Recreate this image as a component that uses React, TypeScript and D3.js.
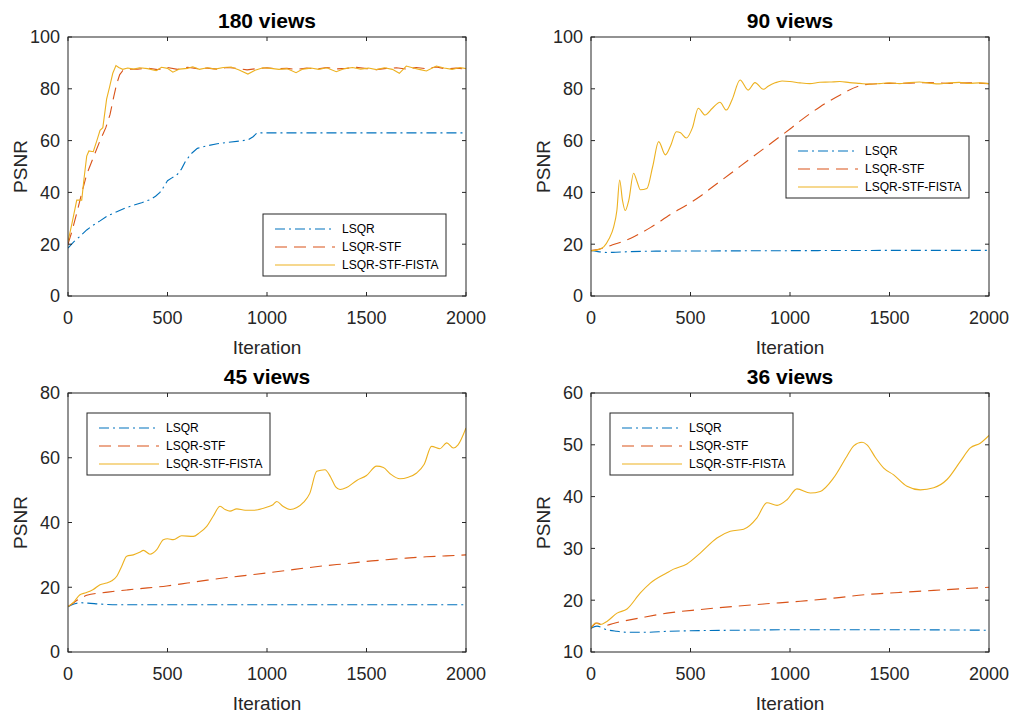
import * as d3 from 'd3';

// [iteration, PSNR] samples
const lsqr180 = [[0, 18.5], [30, 21], [60, 23], [94, 25.5], [130, 27.5], [161, 29], [200, 31], [245, 32.5], [290, 34], [328, 35], [370, 36], [412, 37.2], [440, 38.5], [462, 40], [480, 42], [500, 44.5], [520, 45.5], [550, 47], [570, 49], [590, 52], [620, 55], [650, 57], [700, 58], [750, 58.8], [800, 59.3], [860, 59.8], [906, 60.3], [930, 61.5], [948, 62.8], [970, 63], [2000, 63]];
const stf180 = [[0, 20], [20, 25], [44, 32], [70, 40], [94, 47], [130, 54], [161, 60], [190, 65], [211, 70], [230, 77], [245, 82], [260, 85.5], [275, 87], [300, 87.5], [350, 87.6], [400, 88], [450, 87.4], [500, 88.2], [550, 87.5], [600, 88.3], [650, 87.8], [700, 88], [750, 87.6], [800, 88.2], [850, 87.9], [900, 87.3], [950, 87.8], [1000, 88.1], [1050, 87.7], [1100, 87.9], [1150, 87.5], [1200, 88], [1250, 87.6], [1300, 88.2], [1350, 87.7], [1400, 87.9], [1450, 88.3], [1500, 87.8], [1550, 87.4], [1600, 87.9], [1650, 88.1], [1700, 87.6], [1750, 88.2], [1800, 87.8], [1850, 88.4], [1900, 87.7], [1950, 88], [2000, 87.6]];
const fista180 = [[0, 21], [20, 28], [44, 37], [69, 37], [80, 45], [94, 54], [105, 56], [127, 55.7], [145, 60], [161, 64], [175, 65], [194, 76], [210, 81], [225, 86], [241, 89], [255, 88.2], [275, 87.5], [300, 88], [330, 87.6], [360, 88.1], [400, 87.8], [443, 87], [470, 88.3], [500, 87.9], [527, 86.4], [560, 87.6], [600, 87.9], [627, 88.5], [660, 87.5], [700, 88.1], [740, 87.6], [780, 88.2], [820, 88.4], [860, 87.3], [904, 85.7], [940, 87.2], [980, 88.1], [1020, 87.9], [1060, 87.5], [1100, 87.8], [1146, 86.2], [1180, 87.6], [1220, 88], [1260, 87.5], [1300, 88.1], [1348, 86.6], [1390, 87.8], [1430, 88.2], [1470, 87.6], [1510, 88], [1550, 87.4], [1590, 88.1], [1630, 87.5], [1665, 86], [1700, 88.8], [1740, 87.9], [1770, 87.4], [1801, 86.9], [1851, 88.8], [1890, 88], [1930, 87.5], [1970, 88.2], [2000, 87.8]];

const lsqr90 = [[0, 17.6], [30, 17.2], [80, 16.8], [150, 17], [300, 17.3], [600, 17.4], [1000, 17.5], [1500, 17.6], [2000, 17.6]];
const stf90 = [[0, 17.5], [40, 18], [100, 19.5], [200, 22.3], [300, 26.5], [400, 31.5], [500, 36], [549, 38.5], [600, 41.5], [700, 47.2], [800, 53], [884, 57.8], [1000, 64.5], [1058, 68], [1150, 73], [1250, 77.5], [1343, 81], [1400, 81.8], [1500, 82.1], [1600, 82.2], [1700, 82.4], [1800, 82.1], [1900, 82.3], [2000, 82]];
const fista90 = [[0, 17.5], [30, 17.8], [64, 19], [90, 22], [114, 26.7], [130, 33], [144, 44.8], [158, 37], [172, 33], [190, 37], [214, 47.4], [232, 44], [248, 41], [281, 41.5], [310, 50], [340, 59.6], [374, 54.5], [400, 58], [429, 63.4], [450, 63], [479, 61], [510, 65], [539, 72.5], [573, 69.9], [610, 72.5], [648, 74.8], [680, 71.8], [710, 76], [749, 83.4], [790, 79.5], [824, 82.4], [866, 79.8], [890, 81], [925, 82.3], [960, 83], [1000, 82.8], [1050, 82.3], [1100, 82], [1150, 82.5], [1200, 82.6], [1250, 82.8], [1300, 82.4], [1350, 82.1], [1400, 81.8], [1450, 82], [1500, 82.3], [1550, 82], [1600, 82.4], [1650, 82.6], [1700, 82.2], [1750, 81.9], [1800, 82.3], [1850, 82.5], [1900, 82.1], [1950, 82.3], [2000, 82]];

const lsqr45 = [[0, 14], [30, 14.8], [60, 15.2], [100, 15.1], [161, 14.8], [250, 14.6], [500, 14.6], [1000, 14.6], [1500, 14.6], [2000, 14.6]];
const stf45 = [[0, 14], [30, 15.3], [60, 16.5], [94, 17.5], [200, 18.5], [300, 19.2], [400, 19.8], [496, 20.4], [600, 21.3], [700, 22.2], [800, 23], [900, 23.7], [998, 24.4], [1100, 25.2], [1200, 26], [1300, 26.7], [1400, 27.3], [1501, 28], [1600, 28.5], [1700, 29], [1800, 29.4], [1900, 29.7], [2000, 30]];
const fista45 = [[0, 14], [30, 15.5], [60, 17.7], [90, 18.3], [127, 19.3], [161, 20.8], [194, 21.3], [220, 22], [245, 23.4], [270, 26.5], [295, 29.6], [328, 30], [360, 30.8], [379, 31.4], [412, 30.2], [446, 31.6], [479, 34.7], [500, 35], [529, 34.7], [571, 35.9], [630, 35.7], [660, 36.8], [697, 38.8], [730, 42], [764, 45], [790, 44], [814, 43.5], [848, 44.2], [890, 43.8], [931, 43.8], [998, 44.7], [1030, 45.5], [1049, 46.5], [1080, 45], [1116, 44], [1150, 44.6], [1183, 46.2], [1215, 49], [1250, 55.8], [1291, 56.3], [1320, 54], [1345, 51], [1367, 50.2], [1400, 50.8], [1451, 53], [1500, 54.5], [1551, 57.4], [1585, 57], [1620, 55], [1668, 53.5], [1710, 54], [1752, 55.3], [1790, 58], [1827, 63.5], [1869, 62.8], [1903, 64.6], [1936, 63], [1960, 64], [2000, 69.2]];

const lsqr36 = [[0, 14.6], [30, 15], [80, 14.3], [130, 14], [181, 13.8], [280, 13.8], [382, 14], [500, 14.1], [717, 14.2], [1000, 14.3], [1219, 14.3], [1500, 14.3], [2000, 14.2]];
const stf36 = [[0, 14.6], [30, 15.6], [64, 15.1], [131, 15.7], [250, 16.6], [382, 17.5], [550, 18.2], [717, 18.8], [880, 19.3], [1052, 19.8], [1220, 20.4], [1387, 21.1], [1550, 21.5], [1722, 21.9], [1860, 22.2], [2000, 22.5]];
const fista36 = [[0, 14.6], [22, 15.6], [47, 15.3], [80, 15.9], [131, 17.5], [181, 18.3], [248, 21.4], [298, 23.3], [382, 25.3], [415, 26], [482, 27], [549, 29.1], [633, 32], [700, 33.3], [767, 33.7], [834, 35.9], [884, 38.8], [935, 38.3], [985, 39.4], [1035, 41.5], [1102, 40.7], [1152, 41], [1219, 43.6], [1286, 47.8], [1320, 49.8], [1362, 50.5], [1387, 50], [1430, 47.5], [1471, 45.5], [1521, 44.2], [1588, 42], [1655, 41.3], [1722, 41.7], [1789, 43.3], [1856, 46.8], [1906, 49.4], [1956, 50.3], [2000, 51.8]];

const seriesNames = ['LSQR', 'LSQR-STF', 'LSQR-STF-FISTA'];
const seriesColors = ['#0072BD', '#D95319', '#EDB120'];
const seriesDash = ['10,4,2,4', '12,7', null];
const xTicks = [0, 500, 1000, 1500, 2000];

const panels = [
  { title: '180 views', data: [lsqr180, stf180, fista180], yDomain: [0, 100], yTicks: [0, 20, 40, 60, 80, 100], box: [68, 37, 466, 296], legend: [263, 214], smooth: false },
  { title: '90 views', data: [lsqr90, stf90, fista90], yDomain: [0, 100], yTicks: [0, 20, 40, 60, 80, 100], box: [591, 37, 989, 296], legend: [786, 136], smooth: true },
  { title: '45 views', data: [lsqr45, stf45, fista45], yDomain: [0, 80], yTicks: [0, 20, 40, 60, 80], box: [68, 393, 466, 652], legend: [87, 413], smooth: true },
  { title: '36 views', data: [lsqr36, stf36, fista36], yDomain: [10, 60], yTicks: [10, 20, 30, 40, 50, 60], box: [591, 393, 989, 652], legend: [610, 413], smooth: true },
];

const ink = '#262626';
const font = 'Liberation Sans, Arial, Helvetica, sans-serif';

function Panel({ p }: { p: any }) {
  const [x0, y0, x1, y1] = p.box;
  const x = d3.scaleLinear().domain([0, 2000]).range([x0, x1]);
  const y = d3.scaleLinear().domain(p.yDomain).range([y1, y0]);
  const line = d3.line<number[]>()
    .x(d => x(d[0]))
    .y(d => y(d[1]))
    .curve(p.smooth ? d3.curveMonotoneX : d3.curveLinear);
  const [lx, ly] = p.legend;
  const tick = 4;
  const clipId = `clip-${p.title.replace(' ', '')}`;
  return (
    <g>
      <text x={(x0 + x1) / 2} y={y0 - 9.5} textAnchor="middle" fontSize={21} fontWeight="bold" fill="#000">{p.title}</text>
      <rect x={x0} y={y0} width={x1 - x0} height={y1 - y0} fill="#fff" />
      <clipPath id={clipId}>
        <rect x={x0} y={y0 - 1} width={x1 - x0} height={y1 - y0 + 2} />
      </clipPath>
      <g clipPath={`url(#${clipId})`}>
        {p.data.map((s: number[][], i: number) => (
          <path key={i} d={line(s) || ''} fill="none" stroke={seriesColors[i]} strokeWidth={1.1}
            strokeDasharray={seriesDash[i] || undefined} />
        ))}
      </g>
      <rect x={x0} y={y0} width={x1 - x0} height={y1 - y0} fill="none" stroke={ink} strokeWidth={1} />
      {xTicks.map(t => (
        <g key={'x' + t}>
          <line x1={x(t)} x2={x(t)} y1={y1} y2={y1 - tick} stroke={ink} />
          <line x1={x(t)} x2={x(t)} y1={y0} y2={y0 + tick} stroke={ink} />
          <text x={x(t)} y={y1 + 27.5} textAnchor="middle" fontSize={18} fill={ink}>{t}</text>
        </g>
      ))}
      {p.yTicks.map((t: number) => (
        <g key={'y' + t}>
          <line x1={x0} x2={x0 + tick} y1={y(t)} y2={y(t)} stroke={ink} />
          <line x1={x1} x2={x1 - tick} y1={y(t)} y2={y(t)} stroke={ink} />
          <text x={x0 - 8} y={y(t) + 6.3} textAnchor="end" fontSize={18} fill={ink}>{t}</text>
        </g>
      ))}
      <text x={(x0 + x1) / 2} y={y1 + 57.5} textAnchor="middle" fontSize={19} fill={ink}>Iteration</text>
      <text transform={`translate(${x0 - 41},${(y0 + y1) / 2}) rotate(-90)`} textAnchor="middle" fontSize={19} fill={ink}>PSNR</text>
      <g>
        <rect x={lx} y={ly} width={183} height={62} fill="#fff" stroke={ink} strokeWidth={1} />
        {seriesNames.map((n, i) => (
          <g key={n}>
            <line x1={lx + 12} x2={lx + 72} y1={ly + 15 + i * 18} y2={ly + 15 + i * 18}
              stroke={seriesColors[i]} strokeWidth={1.1} strokeDasharray={seriesDash[i] || undefined} />
            <text x={lx + 79} y={ly + 19.3 + i * 18} fontSize={12} fill="#000">{n}</text>
          </g>
        ))}
      </g>
    </g>
  );
}

export default function App() {
  return (
    <svg width={1013} height={713} style={{ position: 'absolute', left: 0, top: 0, background: '#fff' }}
      fontFamily={font}>
      <rect width={1013} height={713} fill="#fff" />
      {panels.map(p => <Panel key={p.title} p={p} />)}
    </svg>
  );
}
